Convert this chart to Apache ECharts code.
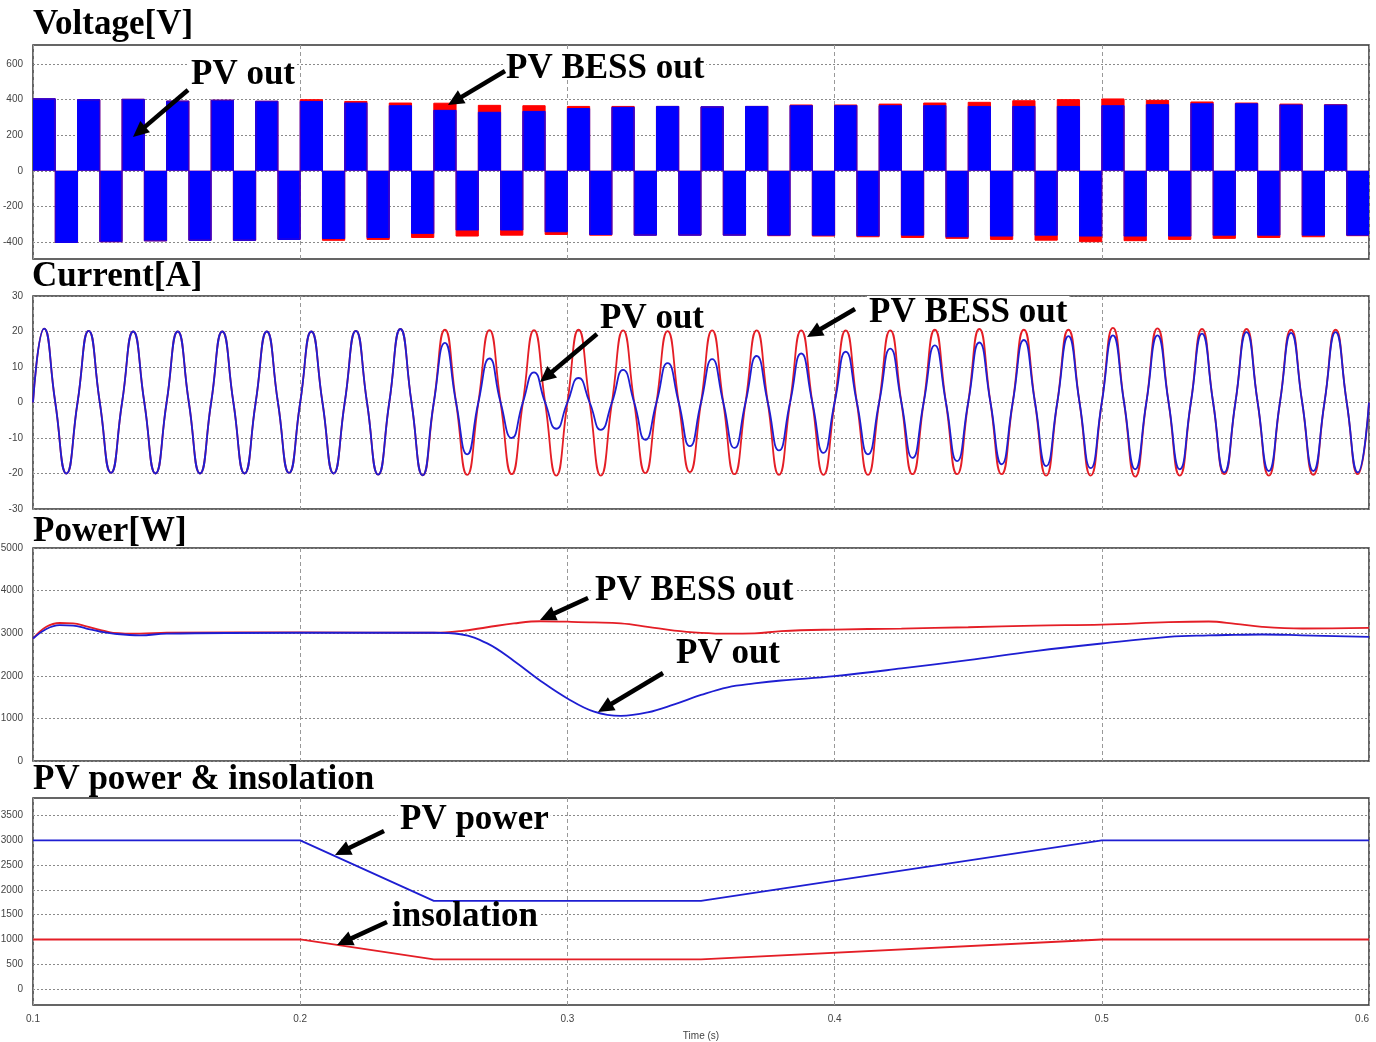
<!DOCTYPE html>
<html><head><meta charset="utf-8">
<script src="https://cdn.jsdelivr.net/npm/echarts@6/dist/echarts.min.js"></script>
<style>html,body{margin:0;padding:0;background:#fff}#c{width:1376px;height:1042px}</style>
</head><body><div id="c"></div>
<script>
// ---------- DATA ----------
const T0 = 0.1, HALF = 1 / 120; // 60 Hz half-cycle
// Voltage: square-wave level of each half cycle (V)
const voltBlue = [405,-402,400,-398,402,-393,392,-390,397,-390,391,-385,390,-380,381,-374,366,-351,340,-332,
  329,-332,334,-342,350,-357,357,-361,362,-361,360,-361,362,-361,366,-361,366,-364,366,-361,
  366,-370,362,-366,362,-361,362,-366,366,-366,372,-366,377,-361,377,-361,370,-361,370,-361];
const voltRed = [405,-402,400,-398,402,-393,392,-390,397,-390,391,-385,400,-390,390,-385,381,-374,380,-366,
  368,-361,366,-357,362,-361,362,-361,362,-361,360,-361,362,-364,370,-366,370,-370,375,-374,
  381,-379,385,-385,394,-389,400,-398,404,-392,396,-385,387,-379,381,-374,375,-370,372,-364];
// Current: peak of each half cycle (A)
const curRed = [20.8,-20,20.2,-19.8,20,-20,20,-20,20,-20,20,-19.8,20,-20,20.2,-20.3,20.7,-20.5,20.5,-20.4,
  20.4,-20.2,20.4,-20.6,20.5,-20.6,20.3,-19.9,20.1,-19.6,20.3,-20.2,20.3,-20.4,20.3,-20.4,20.3,-20.4,20.3,-20.2,
  20.5,-20.2,20.7,-20.2,20.5,-20.6,20.5,-20.6,21,-20.9,20.9,-20.6,20.7,-20.2,20.7,-20.6,20.5,-20.4,20.5,-20.2];
const curBlue = [20.8,-20,20.2,-19.8,20,-20,20,-20,20,-20,20,-19.8,20,-20,20.2,-20.3,20.7,-20.5,16.8,-14.6,
  12.4,-10,8.5,-7.4,6.9,-7.7,9.2,-10.5,11.1,-12.3,12.2,-12.8,13.1,-13.5,13.8,-14.2,14.3,-14.6,15.2,-15.6,
  16.1,-16.5,16.9,-17.4,17.6,-17.9,18.7,-18.5,18.9,-18.8,18.9,-18.8,19.4,-19.7,19.8,-19.3,19.6,-19.3,19.8,-19.7];
// Power (W)
const powerT    = [0.1,0.105,0.11,0.115,0.12,0.125,0.13,0.14,0.15,0.2,0.25,0.26,0.27,0.28,0.29,0.3,0.31,0.32,0.33,0.34,0.35,0.36,0.37,0.38,0.4,0.425,0.45,0.475,0.5,0.525,0.54,0.55,0.56,0.575,0.6];
const powerRed  = [2875,3150,3240,3230,3160,3080,3010,2990,3010,3020,3010,3050,3140,3230,3280,3270,3255,3230,3150,3060,3010,2990,2995,3050,3086,3109,3140,3180,3203,3260,3275,3220,3150,3110,3125];
const powerBlue = [2875,3100,3190,3180,3110,3040,2990,2950,2990,3010,3010,2975,2760,2350,1880,1469,1158,1058,1140,1330,1550,1730,1820,1890,1992,2172,2370,2580,2758,2914,2950,2960,2969,2950,2914];
// PV power & insolation
const pvT     = [0.1,0.2,0.25,0.35,0.5,0.6];
const pvPower = [3000,3000,1780,1780,3000,3000];
const insol   = [1000,1000,600,600,1000,1000];
// tick labels
const voltTicks = [-400,-200,0,200,400,600];
const pvTicks = [0,500,1000,1500,2000,2500,3000,3500];

// ---------- BUILD ----------
function stepData(levels){
  const d = levels.map((v,k)=>[T0 + k*HALF, v]);
  d.push([0.6, levels[levels.length-1]]);
  return d;
}
function waveData(peaks){
  const d = [];
  peaks.forEach((p,k)=>{ d.push([T0 + k*HALF, 0]); d.push([T0 + k*HALF + HALF/2, p]); });
  d.push([0.6, 0]);
  return d;
}
const zip = (xs, ys) => xs.map((x,i)=>[x, ys[i]]);

const RED = '#ff0000', BLUE = '#0000ff', RED2 = '#e41e26', BLUE2 = '#1e1ed2';
const grids = [
  {left:33, top:45, width:1336, height:214},
  {left:33, top:296, width:1336, height:213},
  {left:33, top:548, width:1336, height:213},
  {left:33, top:798, width:1336, height:207}
].map(g=>Object.assign(g,{show:true, borderColor:'#333', borderWidth:1.5, outerBoundsMode:'none'}));

const hSplit = {show:true, lineStyle:{type:[2,2], color:'#8a8a8a', width:1}};
const lblY = {fontSize:10, color:'#444', margin:10, fontFamily:'"Liberation Sans", Arial, sans-serif',
              formatter: v => String(v)};

const xAxes = [0,1,2,3].map(i=>({
  type:'value', gridIndex:i, min:0.1, max:0.6, interval:0.1,
  axisLine:{show:false}, axisTick:{show:false},
  splitLine:{show:true, lineStyle:{type:[4,3], color:'#999', width:1}},
  axisLabel: i===3 ? {show:true, fontSize:10, color:'#444', margin:9, alignMaxLabel:'right',
                      fontFamily:'"Liberation Sans", Arial, sans-serif', formatter: v => String(v)} : {show:false}
}));
const yAxes = [
  {gridIndex:0, type:'value', min:-495, max:707,
   axisLabel:Object.assign({customValues:voltTicks}, lblY), axisTick:{show:false, customValues:voltTicks}},
  {gridIndex:1, type:'value', min:-30, max:30, interval:10, axisLabel:lblY, axisTick:{show:false}},
  {gridIndex:2, type:'value', min:0, max:5000, interval:1000, axisLabel:lblY, axisTick:{show:false}},
  {gridIndex:3, type:'value', min:-323, max:3857,
   axisLabel:Object.assign({customValues:pvTicks}, lblY), axisTick:{show:false, customValues:pvTicks}}
].map(a=>Object.assign(a,{axisLine:{show:false}, splitLine:hSplit}));

function line(i, data, color, extra){
  return Object.assign({type:'line', xAxisIndex:i, yAxisIndex:i, data, symbol:'none', silent:true,
    lineStyle:{color, width:1.8}, itemStyle:{color}}, extra||{});
}
const series = [
  line(0, stepData(voltRed), RED, {step:'end', lineStyle:{color:RED,width:1}, areaStyle:{color:RED, opacity:1}}),
  line(0, stepData(voltBlue), BLUE, {step:'end', lineStyle:{color:BLUE,width:1}, areaStyle:{color:BLUE, opacity:1}}),
  line(1, waveData(curRed), RED2, {smooth:0.55}),
  line(1, waveData(curBlue), BLUE2, {smooth:0.55}),
  line(2, zip(powerT, powerRed), RED2, {smooth:0.4}),
  line(2, zip(powerT, powerBlue), BLUE2, {smooth:0.4}),
  line(3, zip(pvT, pvPower), BLUE2),
  line(3, zip(pvT, insol), RED2)
];

// ---------- ANNOTATIONS ----------
const FONT = 'bold 35px "Liberation Serif", "Times New Roman", serif';
const mctx = document.createElement('canvas').getContext('2d');
function label(text, x, baseline, bg){
  const out = [];
  if (bg) {
    mctx.font = FONT;
    const w = mctx.measureText(text).width;
    // white box over the grid lines, but under the curves
    out.push({type:'rect', z:1, shape:{x:x-2, y:baseline-25, width:w+4, height:27}, style:{fill:'#fff'}});
  }
  out.push({type:'text', z:100, x, y:baseline-7.8,
    style:{text, font:FONT, fill:'#000', align:'left', verticalAlign:'middle'}});
  return out;
}
function arrow(x1,y1,x2,y2){
  const dx=x2-x1, dy=y2-y1, L=Math.hypot(dx,dy), ux=dx/L, uy=dy/L;
  const hl=16, hw=7.5;
  const bx=x2-ux*hl, by=y2-uy*hl;
  return [
    {type:'line', z:100, shape:{x1, y1, x2:bx+ux*2, y2:by+uy*2}, style:{stroke:'#000', lineWidth:4.5}},
    {type:'polygon', z:100, shape:{points:[[x2,y2],[bx-uy*hw,by+ux*hw],[bx+uy*hw,by-ux*hw]]}, style:{fill:'#000'}}
  ];
}
const graphics = [
  ...label('Voltage[V]', 33, 33),
  ...label('Current[A]', 32, 285),
  ...label('Power[W]', 33, 540),
  ...label('PV power & insolation', 33, 788),
  ...label('PV out', 191, 83, true),
  ...label('PV BESS out', 506, 77, true),
  ...label('PV out', 600, 327, true),
  ...label('PV BESS out', 869, 321, true),
  ...label('PV BESS out', 595, 599, true),
  ...label('PV out', 676, 662, true),
  ...label('PV power', 400, 828, true),
  ...label('insolation', 392, 925, true),
  ...arrow(188,90,133,137),
  ...arrow(505,71,448,105),
  ...arrow(597,334,540,382),
  ...arrow(855,309,807,337),
  ...arrow(588,598,540,620),
  ...arrow(663,673,598,712),
  ...arrow(384,831,335,855),
  ...arrow(387,922,337,945),
  {type:'text', z:100, x:701, y:1036, style:{text:'Time (s)', font:'10px "Liberation Sans", Arial, sans-serif', fill:'#444', align:'center', verticalAlign:'middle'}}
];

const chart = echarts.init(document.getElementById('c'), null, {renderer:'canvas'});
chart.setOption({
  animation:false, backgroundColor:'#fff',
  grid:grids, xAxis:xAxes, yAxis:yAxes, series, graphic:graphics
});
</script></body></html>
